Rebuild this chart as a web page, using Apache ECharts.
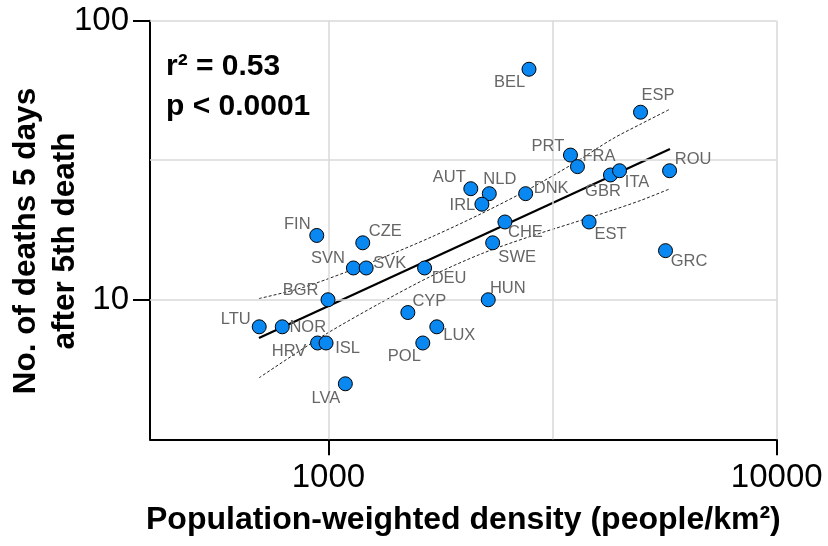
<!DOCTYPE html>
<html><head><meta charset="utf-8">
<script src="https://cdn.jsdelivr.net/npm/echarts@6/dist/echarts.min.js"></script>
<style>html,body{margin:0;padding:0;background:#fff}#c{width:828px;height:546px}</style>
</head><body><div id="c"></div>
<script>
const countries = ['FIN','CZE','SVN','SVK','DEU','BGR','HUN','CYP','LTU','NOR','LUX','HRV','ISL','POL','LVA','BEL','ESP','PRT','FRA','GBR','ITA','ROU','AUT','NLD','DNK','IRL','CHE','EST','SWE','GRC'];
const density = [942,1193,1137,1214,1639,998,2273,1504,701,789,1745,946,988,1624,1091,2802,4969,3467,3594,4258,4461,5768,2078,2285,2754,2200,2476,3815,2325,5649];
const deaths = [17,16,13,13,13,10,10,9,8,8,8,7,7,7,5,67,47,33,30,28,29,29,25,24,24,22,19,19,16,15];
const fitX = [700, 5780];
const fitY = [7.29, 34.7];
const bandX = [700,850,1000,1300,1700,2200,2800,3500,4300,5000,5780];
const upperBand = [10.1,10.9,11.9,14.0,16.8,20.4,24.9,30.6,37.7,42.8,48.2];
const lowerBand = [5.25,6.46,7.63,9.70,12.18,14.64,16.80,18.83,20.94,22.77,24.99];
const xTicks = [1000, 10000];
const yTicks = [10, 100];
const xGrid = [1000, 3162.28, 10000];
const yGrid = [10, 31.6228, 100];
const statLines = ['r\u00b2 = 0.53', 'p < 0.0001'];
const xTitle = 'Population-weighted density (people/km\u00b2)';
const yTitle = 'No. of deaths 5 days\nafter 5th death';

// label placement (layout only): offset of label centre from point centre
const labelOffsets = [[-19,-11],[23,-11],[-25,-9],[24,-4],[25,11],[-27,-9],[20,-11],[22,-11],[-23,-7],[26,1],[23,9],[-28,9],[22,6],[-18,14],[-19,15],[-19,14],[18,-16],[-22,-8],[22,-10],[-7,17],[18,12],[24,-11],[-21,-11],[11,-14],[26,-5],[-19,2],[21,11],[22,13],[25,15],[24,11]];

const FONT = 'Liberation Sans, Arial, sans-serif';
const SYM = 14;
const chart = echarts.init(document.getElementById('c'), null, {renderer:'canvas'});

const scatterData = countries.map((c,i)=>({
  value:[density[i], deaths[i], c],
  label:{position:[SYM/2 + labelOffsets[i][0], SYM/2 + labelOffsets[i][1]]}
}));

const gridLineData = xGrid.map(v=>({xAxis:v})).concat(yGrid.map(v=>({yAxis:v})));

const option = {
  animation:false,
  backgroundColor:'#fff',
  grid:{left:150, right:51.3, top:20.7, bottom:106.7, containLabel:false, outerBoundsMode:'none'},
  xAxis:{
    type:'log', logBase:10, min:400, max:10000,
    name: xTitle, nameLocation:'middle', nameGap:65,
    nameTextStyle:{fontFamily:FONT, fontWeight:'bold', fontSize:32, color:'#000'},
    axisLine:{show:true, lineStyle:{color:'#000', width:2}},
    axisTick:{show:true, length:16, lineStyle:{color:'#000', width:2}, customValues:xTicks},
    axisLabel:{show:true, margin:22, fontFamily:FONT, fontSize:33, color:'#000', customValues:xTicks, formatter:v=>String(Math.round(v))},
    splitLine:{show:false}, minorTick:{show:false}
  },
  yAxis:{
    type:'log', logBase:10, min:3.16228, max:100,
    axisLine:{show:true, lineStyle:{color:'#000', width:2}},
    axisTick:{show:true, length:17, lineStyle:{color:'#000', width:2}, customValues:yTicks},
    axisLabel:{show:true, margin:21, fontFamily:FONT, fontSize:33, color:'#000', customValues:yTicks, formatter:v=>String(Math.round(v))},
    splitLine:{show:false}
  },
  graphic:[
    {type:'text', x:46, y:241, rotation:Math.PI/2, z:10,
     style:{text:yTitle, font:'bold 31.5px '+FONT, fill:'#000', textAlign:'center', textVerticalAlign:'middle', lineHeight:39}},
    {type:'text', x:166, y:66.5, z:10,
     style:{text:statLines[0], font:'bold 30px '+FONT, fill:'#000', textAlign:'left', textVerticalAlign:'middle'}},
    {type:'text', x:166, y:107, z:10,
     style:{text:statLines[1], font:'bold 30px '+FONT, fill:'#000', textAlign:'left', textVerticalAlign:'middle'}}
  ],
  series:[
    {type:'line', data:[[fitX[0], fitY[0]]], showSymbol:false, symbol:'none', silent:true, z:1,
     lineStyle:{width:0},
     markLine:{silent:true, symbol:['none','none'], label:{show:false},
       lineStyle:{color:'#d9d9d9', width:1.5, type:'solid'}, data:gridLineData, animation:false}},
    {type:'line', data:bandX.map((x,i)=>[x, upperBand[i]]), symbol:'none', smooth:0.3, z:3, silent:true,
     lineStyle:{color:'#222', width:1, type:[3,2]}},
    {type:'line', data:bandX.map((x,i)=>[x, lowerBand[i]]), symbol:'none', smooth:0.3, z:3, silent:true,
     lineStyle:{color:'#222', width:1, type:[3,2]}},
    {type:'line', data:fitX.map((x,i)=>[x, fitY[i]]), symbol:'none', z:4, silent:true,
     lineStyle:{color:'#000', width:2.2}},
    {type:'scatter', data:scatterData, symbol:'circle', symbolSize:SYM, z:5,
     itemStyle:{color:'#0a88f2', borderColor:'#000', borderWidth:1, opacity:1},
     label:{show:true, formatter:p=>p.value[2], fontFamily:FONT, fontSize:16.5, color:'#666', align:'center', verticalAlign:'middle'}}
  ]
};
chart.setOption(option);
</script></body></html>
